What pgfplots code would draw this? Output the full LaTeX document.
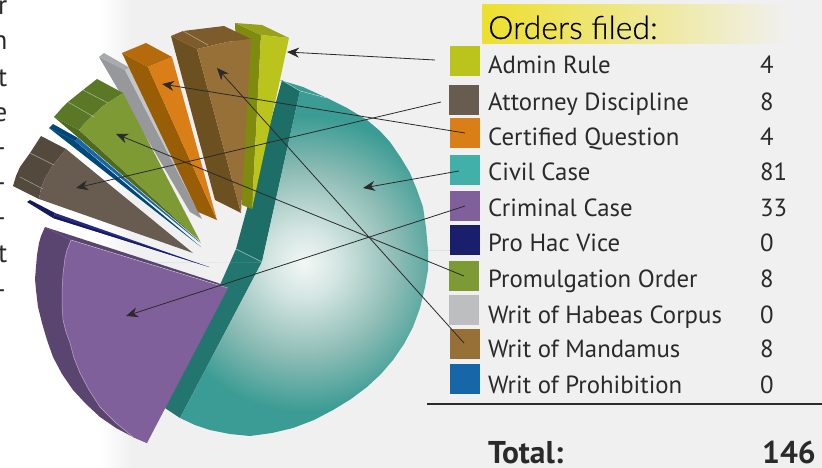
\documentclass[border=0pt]{standalone}
\usepackage{pgfplots}
\pgfplotsset{compat=1.18}
\usepackage{fontspec}
\setmainfont{PT Sans}
\newfontfamily\titlefont[FakeBold=0.4]{Lato Light}
\usetikzlibrary{arrows.meta}
\definecolor{bggray}{HTML}{F0F0F0}
\definecolor{ink}{HTML}{2B2A2B}
\definecolor{tealedge}{HTML}{3A9C94}
\definecolor{tealmid}{HTML}{8DBCB5}
\definecolor{teallite}{HTML}{F2F7F5}
\definecolor{tealwallA}{HTML}{1E6E68}
\definecolor{tealwallB}{HTML}{237670}
\definecolor{titleyel}{HTML}{EDDF2C}
\definecolor{adminF}{HTML}{BBC41D}\definecolor{adminS}{HTML}{7E8B0E}\definecolor{adminT}{HTML}{97A21A}
\definecolor{mandF}{HTML}{977038}\definecolor{mandS}{HTML}{6D5020}\definecolor{mandT}{HTML}{7E5B2A}
\definecolor{ordF}{HTML}{DA7F18}\definecolor{ordS}{HTML}{985D05}\definecolor{ordT}{HTML}{B56A0C}
\definecolor{habF}{HTML}{C4C5C7}\definecolor{habS}{HTML}{97989B}\definecolor{habT}{HTML}{A9AAAD}
\definecolor{probF}{HTML}{1767A8}\definecolor{probS}{HTML}{00487A}
\definecolor{promF}{HTML}{7D9A35}\definecolor{promS}{HTML}{4F6A1F}\definecolor{promT}{HTML}{5A7825}
\definecolor{attF}{HTML}{675C4F}\definecolor{attT}{HTML}{53493D}
\definecolor{hacF}{HTML}{262B7F}\definecolor{hacS}{HTML}{16185F}
\definecolor{crimF}{HTML}{80609B}\definecolor{crimS}{HTML}{5A4470}
\definecolor{civilL}{HTML}{41B0A8}\definecolor{hacL}{HTML}{1A1F6B}\definecolor{habL}{HTML}{BCBEC0}
% tikz maps the middle 50bp of a shading onto the path's box, so 25bp is the box edge
\pgfdeclareradialshading{tealball}{\pgfpoint{0bp}{0bp}}{
  color(0bp)=(teallite); color(5bp)=(teallite!70!tealmid); color(13.5bp)=(tealmid);
  color(21.5bp)=(tealedge); color(50bp)=(tealedge)}
\pgfplotsset{
  face/.style={draw=none,fill=#1},
  seam/.style={draw=white,draw opacity=0.5,line width=0.5pt},
  leader/.style={draw=ink,line width=0.8pt,-{Stealth[length=12pt,width=10pt]}},
}
\newcommand{\lab}[2]{\node[anchor=base west,inner sep=0pt,text=ink,font=\fontsize{24.8}{28}\selectfont] at (axis cs:488,#1) {#2};}
\newcommand{\num}[2]{\node[anchor=base west,inner sep=0pt,text=ink,font=\fontsize{24.8}{28}\selectfont] at (axis cs:760,#1) {#2};}
\newcommand{\frag}[2]{\node[overlay,anchor=base east,inner sep=0pt,text=ink,font=\fontsize{27}{30}\selectfont] at (axis cs:7.5,#1) {#2};}
\begin{document}
\begin{tikzpicture}
\begin{axis}[
  width=822pt, height=468pt, scale only axis,
  xmin=0, xmax=822, ymin=0, ymax=468, y dir=reverse,
  hide axis,
]
% page background, white on the left fading to grey
\fill[white] (axis cs:0,0) rectangle (axis cs:100,468);
\fill[left color=white,right color=bggray] (axis cs:100,0) rectangle (axis cs:132,468);
\fill[bggray] (axis cs:132,0) rectangle (axis cs:822,468);
\fill[left color=titleyel,right color=bggray] (axis cs:482,5) rectangle (axis cs:788,44);

% Civil Case wall and face
\addplot[face=tealwallA] coordinates {(282,80)(300,91)(262,262)(236,249)} --cycle;
\addplot[face=tealwallB] coordinates {(236,249)(262,262)(180,418)(165,408)} --cycle;
\addplot[face=tealedge] coordinates {(280,80)(303,87)(327,98)(300,91)} --cycle;
% the two out-and-back spurs make the bounding box square so the shading stays round
\addplot[draw=none,shade,shading=tealball] coordinates {
 (300,91)(327,98)(347,108)(367,120)(380,131)(390,142)(401,158)(410,173)(417,190)(423,207)(426,228)(428,250)(476,250)(428,250)(428,270)(425,287)(420,308)(413,327)(404,344)(393,360)(381,374)(367,387)(351,399)(333,410)(314,420)(293,428)(272,433)(250,436)(230,434)(210,430)(195,425)(180,418)(262,262)(132,262)(262,262)} --cycle;
\addplot[seam] coordinates {(236,249)(262,262)};
\addplot[seam] coordinates {(282,80)(300,91)(327,98)};

% Admin Rule
\addplot[face=adminS] coordinates {(235,23)(261,35)(252,209)(242,205)} --cycle;
\addplot[face=adminT] coordinates {(235,23)(262,25)(289,38)(261,35)} --cycle;
\addplot[face=adminF] coordinates {(261,35)(289,38)(252,209)} --cycle;

% Writ of Mandamus
\addplot[face=mandS] coordinates {(171,36)(197,49)(241,213)(215,200)} --cycle;
\addplot[face=mandT] coordinates {(171,36)(183,31)(224,26)(251,39)(227,42)(197,49)} --cycle;
\addplot[face=mandF] coordinates {(197,49)(227,42)(251,39)(241,213)} --cycle;
\addplot[seam] coordinates {(183,31)(208,45)};

% Writ of Habeas Corpus
\addplot[face=habS] coordinates {(99,57)(125,70)(202,219)(190,212)} --cycle;
\addplot[face=habT] coordinates {(99,57)(104,53)(130,68)(125,70)} --cycle;
\addplot[face=habF] coordinates {(125,70)(130,68)(202,219)} --cycle;

% Certified Question
\addplot[face=ordS] coordinates {(122,53)(148,67)(217,220)(198,212)} --cycle;
\addplot[face=ordT] coordinates {(122,53)(146,43)(172,57)(148,67)} --cycle;
\addplot[face=ordF] coordinates {(148,67)(172,57)(217,220)} --cycle;

% Writ of Prohibition
\addplot[face=probS] coordinates {(49,128)(75,141)(201,247)} --cycle;
\addplot[face=probS] coordinates {(49,128)(53,124)(78,138)(75,141)} --cycle;
\addplot[face=probF] coordinates {(75,141)(78,138)(201,243)(198,241)} --cycle;

% Promulgation Order
\addplot[face=promS] coordinates {(54,117)(79,130)(200,241)} --cycle;
\addplot[face=promT] coordinates {(54,117)(61,109)(68,102)(83,90)(97,79)(123,93)(103,106)(90,118)(84,124)(79,130)} --cycle;
\addplot[face=promF] coordinates {(79,130)(84,124)(90,118)(103,106)(123,93)(200,241)} --cycle;
\addplot[seam] coordinates {(68,102)(94,117)};
\addplot[seam] coordinates {(83,90)(108,103)};

% Attorney Discipline
\addplot[face=attT] coordinates {(13,186)(16,176)(20,167)(30,153)(41,136)(66,149)(53,165)(45,178)(41,188)(39,199)} --cycle;
\addplot[face=attF] coordinates {(39,199)(41,188)(45,178)(53,165)(66,149)(193,253)} --cycle;
\addplot[seam] coordinates {(20,177)(43,189)};
\addplot[seam] coordinates {(30,153)(54,165)};

% Pro Hac Vice
\addplot[face=hacS] coordinates {(27,202)(30,200)(55,213)(53,218)} --cycle;
\addplot[face=hacF] coordinates {(55,213)(53,218)(209,267)} --cycle;
\addplot[face=hacS] coordinates {(54,216)(53,218)(209,267)} --cycle;

% Criminal Case
\addplot[face=crimS] coordinates {(45,227)(41,236)(39,243)(37,255)(36,267)(35,279)(36,290)(38,307)(42,323)(47,340)(53,357)(62,374)(73,390)(86,404)(100,417)(116,428)(133,437)(147,443)(80,373)(62,290)(71,240)} --cycle;
\addplot[face=crimS] coordinates {(45,227)(71,240)(228,288)(218,283)} --cycle;
\addplot[face=crimF] coordinates {(71,240)(67,250)(65,258)(63,274)(62,290)(62,305)(63,320)(66,332)(70,343)(74,358)(80,373)(89,390)(100,407)(116,423)(133,437)(147,443)(228,288)} --cycle;
\addplot[seam] coordinates {(71,240)(228,288)};
\addplot[seam] coordinates {(71,240)(67,250)(65,258)(63,274)(62,290)(62,305)(63,320)(66,332)(70,343)(74,358)(80,373)(89,390)(100,407)(116,423)(133,437)};

% legend swatches
\addplot[face=adminF] coordinates {(450,46)(480,46)(480,76)(450,76)} --cycle;
\addplot[face=attF] coordinates {(449,85)(479,85)(479,115)(449,115)} --cycle;
\addplot[face=ordF] coordinates {(450,118)(480,118)(480,148)(450,148)} --cycle;
\addplot[face=civilL] coordinates {(450,155)(480,155)(480,185)(450,185)} --cycle;
\addplot[face=crimF] coordinates {(450,191)(480,191)(480,221)(450,221)} --cycle;
\addplot[face=hacL] coordinates {(450,225)(480,225)(480,255)(450,255)} --cycle;
\addplot[face=promF] coordinates {(449,261)(479,261)(479,291)(449,291)} --cycle;
\addplot[face=habL] coordinates {(449,295)(479,295)(479,325)(449,325)} --cycle;
\addplot[face=mandF] coordinates {(450,329)(480,329)(480,359)(450,359)} --cycle;
\addplot[face=probF] coordinates {(450,364)(480,364)(480,394)(450,394)} --cycle;

% leaders
\addplot[leader] coordinates {(435,60)(287,52)};
\addplot[leader] coordinates {(441,102)(76,188)};
\addplot[leader] coordinates {(465,133)(162,84)};
\addplot[leader] coordinates {(459,171)(363,188)};
\addplot[leader] coordinates {(465,206)(126,316)};
\addplot[leader] coordinates {(464,276)(116,134)};
\addplot[leader] coordinates {(464,343)(217,68)};

\addplot[draw=ink,line width=2pt] coordinates {(427,404)(822,404)};

\node[anchor=base west,inner sep=0pt,text=black,font=\titlefont\fontsize{32}{36}\selectfont] at (axis cs:488,39) {Orders filed:};
\lab{74}{Admin Rule}\num{74}{4}
\lab{111}{Attorney Discipline}\num{111}{8}
\lab{146}{Certified Question}\num{146}{4}
\lab{180}{Civil Case}\num{180}{81}
\lab{216}{Criminal Case}\num{216}{33}
\lab{251}{Pro Hac Vice}\num{251}{0}
\lab{287}{Promulgation Order}\num{287}{8}
\lab{323}{Writ of Habeas Corpus}\num{323}{0}
\lab{357}{Writ of Mandamus}\num{357}{8}
\lab{393}{Writ of Prohibition}\num{393}{0}
\node[anchor=base west,inner sep=0pt,text=ink,font=\bfseries\fontsize{31.5}{34}\selectfont] at (axis cs:488,463) {Total:};
\node[anchor=base west,inner sep=0pt,text=ink,font=\bfseries\fontsize{31.5}{34}\selectfont] at (axis cs:762,463) {146};

% end of the paragraph beside the chart
\frag{15}{r}\frag{50}{n}\frag{87}{t}\frag{122}{e}\frag{157}{--}\frag{191}{--}\frag{226}{--}\frag{262}{t}\frag{298}{--}
\end{axis}
\end{tikzpicture}
\end{document}
